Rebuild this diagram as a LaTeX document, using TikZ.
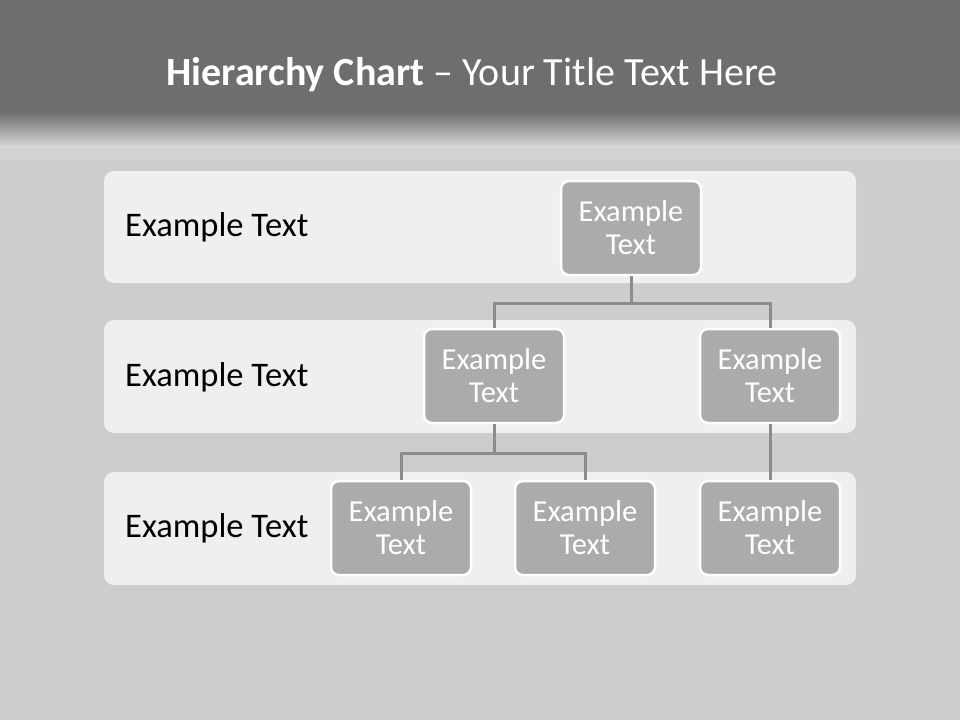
\documentclass[tikz,border=0pt]{standalone}
\usepackage{fontspec}
\setmainfont{Carlito}
\definecolor{bgc}{HTML}{CDCDCD}
\definecolor{topc}{HTML}{6E6E6E}
\definecolor{bandc}{HTML}{EFEFEF}
\definecolor{boxc}{HTML}{ABABAB}
\definecolor{linec}{HTML}{8C8C8C}
\tikzset{
  band/.style={fill=bandc, rounded corners=10pt, draw=none},
  lbl/.style={anchor=west, font=\fontsize{34.5}{40}\selectfont, text=black, inner sep=0pt},
  ebox/.style={draw=white, line width=2.5pt, fill=boxc, rounded corners=8pt,
    minimum width=140pt, minimum height=94pt, align=center, text=white,
    font=\fontsize{30.5}{33}\selectfont, inner sep=0pt},
  conn/.style={draw=linec, line width=3pt}
}
\begin{document}
\begin{tikzpicture}[x=1pt,y=-1pt]
\useasboundingbox (0,0) rectangle (960,720);
\fill[bgc] (0,0) rectangle (960,720);
\fill[topc] (0,0) rectangle (960,112);
\shade[top color=topc, bottom color=bgc!85!white] (0,112) rectangle (960,146);
\fill[white, opacity=0.12] (0,146) rectangle (960,160);
% bands
\fill[band] (104,171) rectangle (856,283);
\fill[band] (104,320) rectangle (856,433);
\fill[band] (104,472) rectangle (856,585);
% title
\node[text=white, font=\fontsize{40}{46}\selectfont, inner sep=0pt] (title) at (472,75)
  {\textbf{Hierarchy Chart} -- Your Title Text Here};
% row labels
\node[lbl] (l1) at (125,227) {Example Text};
\node[lbl] (l2) at (125,377) {Example Text};
\node[lbl] (l3) at (125,528) {Example Text};
% boxes
\node[ebox] (t) at (631,228) {Example\\Text};
\node[ebox] (a) at (494,376) {Example\\Text};
\node[ebox] (b) at (770,376) {Example\\Text};
\node[ebox] (c) at (401,528) {Example\\Text};
\node[ebox] (d) at (585,528) {Example\\Text};
\node[ebox] (e) at (770,528) {Example\\Text};
% connectors
\path[conn] (t.south) -- ++(0,27) -| (a.north);
\path[conn] (t.south) ++(0,27) -| (b.north);
\path[conn] (a.south) -- ++(0,29) -| (c.north);
\path[conn] (a.south) ++(0,29) -| (d.north);
\path[conn] (b.south) -- (e.north);
\end{tikzpicture}
\end{document}
